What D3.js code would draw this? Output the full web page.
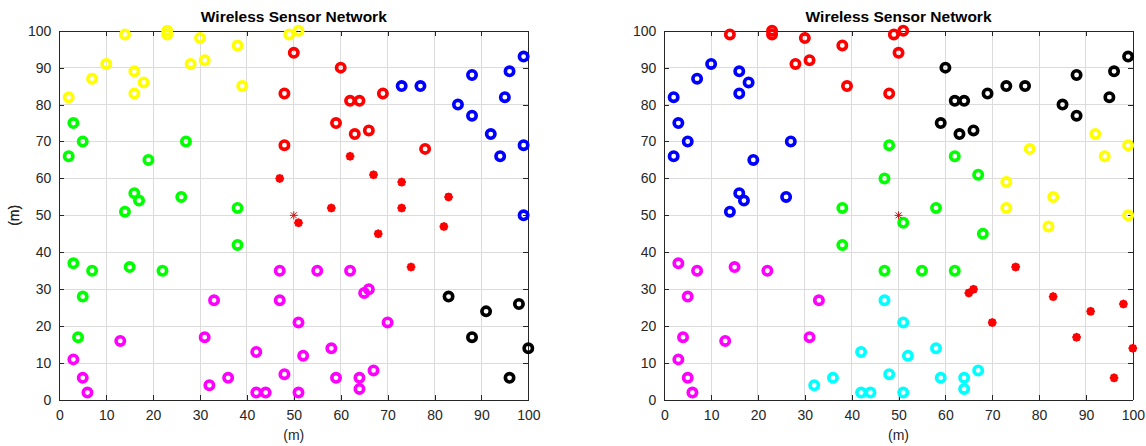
<!DOCTYPE html>
<html>
<head>
<meta charset="utf-8">
<title>Wireless Sensor Network</title>
<script src="https://d3js.org/d3.v7.min.js"></script>
<style>
  body { margin: 0; background: #fff; }
  text { font-family: "Liberation Sans", Arial, sans-serif; fill: #262626; }
  .title { font-weight: bold; font-size: 15.5px; fill: #000; }
  .grid line { stroke: #dcdcdc; stroke-width: 1; shape-rendering: crispEdges; }
  .axis path, .axis line { stroke: #262626; shape-rendering: crispEdges; }
  .axis text { font-size: 14px; fill: #262626; }
</style>
</head>
<body>
<div id="chart"></div>
<script>
// node positions (m)
var nodeX = [14,23,23,30,10,7,2,16,18,16,28,31,38,39,49,51,
             3,5,2,19,27,16,17,14,26,38,38,3,7,15,22,5,4,
             50,60,48,62,64,69,59,63,66,48,78,
             73,77,85,88,88,92,94,95,96,99,99,99,
             62,47,67,73,83,58,73,51,68,82,75,
             3,5,6,13,31,33,32,36,42,42,44,47,47,48,55,62,65,66,51,70,58,52,59,64,64,67,51,
             83,91,98,88,100,96];
var nodeY = [99,100,99,98,91,87,82,89,86,83,91,92,96,85,99,100,
             75,70,66,65,70,56,54,51,55,52,42,37,35,36,35,28,17,
             94,90,83,81,81,83,75,72,73,69,68,
             85,85,80,88,77,72,66,82,89,93,69,50,
             66,60,61,59,55,52,52,48,45,47,36,
             11,6,2,16,17,27,4,6,13,2,2,35,27,7,35,35,29,30,21,21,14,12,6,6,3,8,2,
             28,24,26,17,14,6];
// cluster of each node, left plot (6 = unclustered nodes)
var leftCluster = [0,0,0,0,0,0,0,0,0,0,0,0,0,0,0,0,
                   1,1,1,1,1,1,1,1,1,1,1,1,1,1,1,1,1,
                   2,2,2,2,2,2,2,2,2,2,2,
                   3,3,3,3,3,3,3,3,3,3,3,3,
                   6,6,6,6,6,6,6,6,6,6,6,
                   4,4,4,4,4,4,4,4,4,4,4,4,4,4,4,4,4,4,4,4,4,4,4,4,4,4,4,
                   5,5,5,5,5,5];
// cluster of each node, right plot (7 = unclustered nodes)
var rightCluster = [1,1,1,1,0,0,0,0,0,0,1,1,1,1,1,1,
                    0,0,0,0,0,0,0,0,0,4,4,5,5,5,5,5,5,
                    1,2,1,2,2,2,2,2,2,4,3,
                    2,2,2,2,2,3,3,2,2,2,3,3,
                    4,4,4,3,3,4,3,4,4,3,7,
                    5,5,5,5,5,5,6,6,6,6,6,4,6,6,4,4,7,7,6,7,6,6,6,6,6,6,6,
                    7,7,7,7,7,7];
var sink = [50, 50];
var tickValues = [0,10,20,30,40,50,60,70,80,90,100];
var titleText = "Wireless Sensor Network";
var axisLabel = "(m)";

var leftColors = ["#ffff00","#00ff00","#ff0000","#0000ff","#ff00ff","#000000","#ff0000"];
var rightColors = ["#0000ff","#ff0000","#000000","#ffff00","#00ff00","#ff00ff","#00ffff","#ff0000"];

var W = 1146, H = 446;
var svg = d3.select("#chart").append("svg")
    .attr("width", W).attr("height", H);

var nodes = nodeX.map(function(x, i) {
  return {x: x, y: nodeY[i], l: leftCluster[i], r: rightCluster[i]};
});

function panel(left, width, clusterKey, colors, deadId) {
  var top = 30.7, height = 369.3;
  var g = svg.append("g").attr("transform", "translate(" + left + "," + top + ")");
  var x = d3.scaleLinear().domain([0, 100]).range([0, width]);
  var y = d3.scaleLinear().domain([0, 100]).range([height, 0]);

  // grid
  var grid = g.append("g").attr("class", "grid");
  grid.selectAll(".gx").data(tickValues.slice(1, -1)).enter().append("line")
    .attr("x1", function(d) { return x(d); }).attr("x2", function(d) { return x(d); })
    .attr("y1", 0).attr("y2", height);
  grid.selectAll(".gy").data(tickValues.slice(1, -1)).enter().append("line")
    .attr("y1", function(d) { return y(d); }).attr("y2", function(d) { return y(d); })
    .attr("x1", 0).attr("x2", width);

  // axes, ticks pointing inwards on all four sides
  g.append("g").attr("class", "axis").attr("transform", "translate(0," + height + ")")
    .call(d3.axisBottom(x).tickValues(tickValues).tickSizeInner(-5).tickSizeOuter(0).tickPadding(10));
  g.append("g").attr("class", "axis")
    .call(d3.axisLeft(y).tickValues(tickValues).tickSizeInner(-5).tickSizeOuter(0).tickPadding(8));
  g.append("g").attr("class", "axis")
    .call(d3.axisTop(x).tickValues(tickValues).tickSizeInner(-5).tickSizeOuter(0).tickFormat(""));
  g.append("g").attr("class", "axis").attr("transform", "translate(" + width + ",0)")
    .call(d3.axisRight(y).tickValues(tickValues).tickSizeInner(-5).tickSizeOuter(0).tickFormat(""));
  g.selectAll(".axis .domain").attr("stroke-width", 1.2);

  g.append("text").attr("class", "title")
    .attr("x", width / 2).attr("y", -9).attr("text-anchor", "middle").text(titleText);
  g.append("text").attr("x", width / 2).attr("y", height + 40)
    .attr("text-anchor", "middle").style("font-size", "14px").text(axisLabel);
  g.append("text").attr("transform", "rotate(-90)")
    .attr("x", -height / 2).attr("y", -left + 19)
    .attr("text-anchor", "middle").style("font-size", "14px").text(axisLabel);

  // cluster members as rings
  g.selectAll(".ring").data(nodes.filter(function(d) { return d[clusterKey] !== deadId; }))
    .enter().append("circle")
    .attr("cx", function(d) { return x(d.x); })
    .attr("cy", function(d) { return y(d.y); })
    .attr("r", 4.2)
    .attr("fill", "none")
    .attr("stroke", function(d) { return colors[d[clusterKey]]; })
    .attr("stroke-width", 3.6);

  // unclustered nodes as filled blobs
  var star = "M-2.8,0L2.8,0M0,-2.8L0,2.8M-2,-2L2,2M-2,2L2,-2";
  g.selectAll(".dead").data(nodes.filter(function(d) { return d[clusterKey] === deadId; }))
    .enter().append("path")
    .attr("transform", function(d) { return "translate(" + x(d.x) + "," + y(d.y) + ")"; })
    .attr("d", star)
    .attr("stroke", colors[deadId])
    .attr("stroke-width", 3.4)
    .attr("stroke-linecap", "round")
    .attr("fill", "none");

  // sink
  g.append("path")
    .attr("transform", "translate(" + x(sink[0]) + "," + y(sink[1]) + ")")
    .attr("d", "M-4,0L4,0M0,-4L0,4M-3,-3L3,3M-3,3L3,-3")
    .attr("stroke", "#d01010").attr("stroke-width", 1).attr("fill", "none");
}

panel(59.3, 469, "l", leftColors, 6);
panel(664.3, 468.5, "r", rightColors, 7);
</script>
</body>
</html>
